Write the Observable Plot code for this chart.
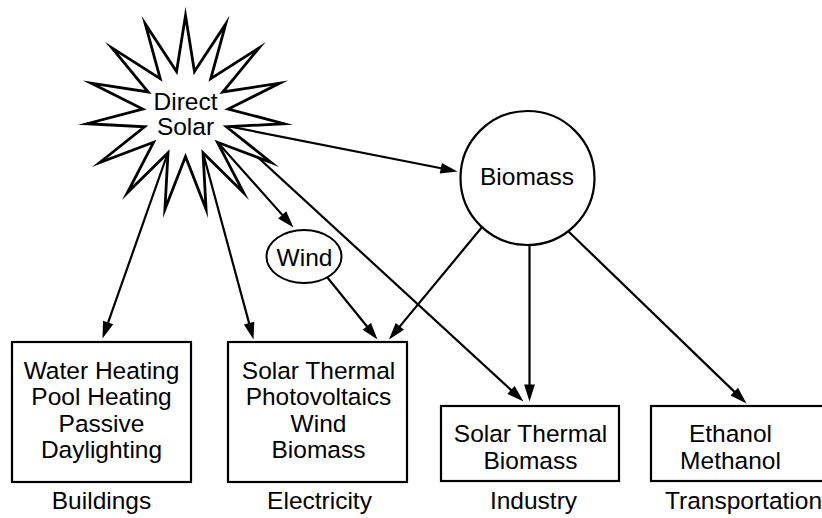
<!DOCTYPE html>
<html>
<head>
<meta charset="utf-8">
<script src="https://cdn.jsdelivr.net/npm/d3@7"></script>
<script src="https://cdn.jsdelivr.net/npm/@observablehq/plot@0.6"></script>
<style>
  html, body { margin: 0; padding: 0; background: #fff; overflow: hidden; }
  #chart svg { display: block; }
</style>
</head>
<body>
<div id="chart"></div>
<script>
// ---- content ----
const sourceIds = ["solar", "wind", "biomass"];
const sourceLabels = ["Direct\nSolar", "Wind", "Biomass"];
const sectors = ["Buildings", "Electricity", "Industry", "Transportation"];
const technologies = [
  ["Water Heating", "Pool Heating", "Passive", "Daylighting"],
  ["Solar Thermal", "Photovoltaics", "Wind", "Biomass"],
  ["Solar Thermal", "Biomass"],
  ["Ethanol", "Methanol"]
];
const flows = [
  ["solar", "biomass"],
  ["solar", "wind"],
  ["solar", "Buildings"],
  ["solar", "Electricity"],
  ["solar", "Industry"],
  ["wind", "Electricity"],
  ["biomass", "Electricity"],
  ["biomass", "Industry"],
  ["biomass", "Transportation"]
];

// ---- layout (pixel space of the 822x518 picture) ----
const W = 822, H = 518;
const layout = {
  star: {cx: 185, cy: 113, rx: 99, ry: 98, rInner: 43, points: 15},
  wind: {cx: 303.5, cy: 256, rx: 37.5, ry: 26.5},
  biomass: {cx: 527, cy: 177.5, r: 67},
  sourceText: {solar: [185, 134, 1], wind: [304, 265, 1], biomass: [526.5, 184, 1]},
  boxes: {
    Buildings:      {x1: 12,  x2: 191, y1: 342, y2: 482, tx: 101, ty: 457.7},
    Electricity:    {x1: 228, x2: 407, y1: 342, y2: 482, tx: 318, ty: 457.7},
    Industry:       {x1: 441, x2: 619, y1: 406, y2: 481, tx: 530, ty: 468.3},
    Transportation: {x1: 651, x2: 860, y1: 406, y2: 481, tx: 730, ty: 468.3}
  },
  labelX: {Buildings: 101, Electricity: 319, Industry: 533, Transportation: 743},
  labelY: 508,
  flowEnds: {
    "solar>biomass":           [224, 125, 457, 171],
    "solar>wind":              [215.5, 140, 293, 227],
    "solar>Buildings":         [168, 150.5, 102, 338],
    "solar>Electricity":       [202, 150.5, 253, 339],
    "solar>Industry":          [224, 126, 523, 401],
    "wind>Electricity":        [326.7, 276.7, 377, 339],
    "biomass>Electricity":     [482, 226, 388.5, 339],
    "biomass>Industry":        [529, 245, 529, 401],
    "biomass>Transportation":  [568, 231, 746, 403]
  },
  fontSize: 24.5,
  lineHeight: 26.5 / 24.5,
  headLen: 17,
  headHalf: 5.4
};
const font = "Liberation Sans, Arial, Helvetica, sans-serif";

// ---- derived geometry ----
const s = layout.star;
const starPts = d3.range(s.points * 2).map(i => {
  const a = (-90 + i * 180 / s.points) * Math.PI / 180;
  const outer = i % 2 === 0;
  return {x: s.cx + (outer ? s.rx : s.rInner) * Math.cos(a), y: s.cy + (outer ? s.ry : s.rInner) * Math.sin(a)};
});

const flowRows = flows.map(([a, b]) => {
  const [x1, y1, x2, y2] = layout.flowEnds[a + ">" + b];
  const dx = x2 - x1, dy = y2 - y1, len = Math.hypot(dx, dy);
  const back = layout.headLen * 0.6;
  return {
    x1, y1, x2, y2,
    lx2: x2 - dx / len * back, ly2: y2 - dy / len * back,
    angle: Math.atan2(dx, -dy) * 180 / Math.PI
  };
});

const arrowHead = {
  draw(c) {
    c.moveTo(0, 0);
    c.lineTo(-layout.headHalf, layout.headLen);
    c.lineTo(layout.headHalf, layout.headLen);
    c.closePath();
  }
};
function ellipseSymbol(rx, ry) {
  const k = 0.5523;
  return {
    draw(c) {
      c.moveTo(rx, 0);
      c.bezierCurveTo(rx, k * ry, k * rx, ry, 0, ry);
      c.bezierCurveTo(-k * rx, ry, -rx, k * ry, -rx, 0);
      c.bezierCurveTo(-rx, -k * ry, -k * rx, -ry, 0, -ry);
      c.bezierCurveTo(k * rx, -ry, rx, -k * ry, rx, 0);
      c.closePath();
    }
  };
}

const boxRows = sectors.map((name, i) => ({name, text: technologies[i].join("\n"), ...layout.boxes[name]}));
const labelRows = sectors.map(name => ({name, x: layout.labelX[name], y: layout.labelY}));
const sourceRows = sourceIds.map((id, i) => {
  const [x, y] = layout.sourceText[id];
  return {text: sourceLabels[i], x, y};
});

const chart = Plot.plot({
  width: W,
  height: H,
  margin: 0,
  x: {domain: [0, W], range: [0, W], axis: null},
  y: {domain: [0, H], range: [0, H], axis: null},
  style: {background: "white", fontFamily: font},
  marks: [
    Plot.link(flowRows, {x1: "x1", y1: "y1", x2: "lx2", y2: "ly2", stroke: "black", strokeWidth: 2.2}),
    Plot.dot(flowRows, {x: "x2", y: "y2", rotate: "angle", symbol: arrowHead, fill: "black", stroke: "none"}),
    Plot.line(starPts, {x: "x", y: "y", curve: "linear-closed", fill: "white", stroke: "black", strokeWidth: 2.8, strokeLinejoin: "miter", strokeMiterlimit: 12}),
    Plot.dot([layout.biomass], {x: "cx", y: "cy", r: layout.biomass.r, fill: "white", stroke: "black", strokeWidth: 2.2}),
    Plot.dot([layout.wind], {x: "cx", y: "cy", symbol: ellipseSymbol(layout.wind.rx, layout.wind.ry), fill: "white", stroke: "black", strokeWidth: 2}),
    Plot.rect(boxRows, {x1: "x1", x2: "x2", y1: "y1", y2: "y2", fill: "none", stroke: "black", strokeWidth: 2.2}),
    Plot.text(boxRows, {x: "tx", y: "ty", text: "text", lineAnchor: "bottom", lineHeight: layout.lineHeight, fontSize: layout.fontSize, fontFamily: font, fill: "black"}),
    Plot.text(labelRows, {x: "x", y: "y", text: "name", lineAnchor: "bottom", fontSize: layout.fontSize, fontFamily: font, fill: "black"}),
    Plot.text(sourceRows, {x: "x", y: "y", text: "text", lineAnchor: "bottom", lineHeight: 1, fontSize: layout.fontSize, fontFamily: font, fill: "black"})
  ]
});
document.getElementById("chart").appendChild(chart);
</script>
</body>
</html>
